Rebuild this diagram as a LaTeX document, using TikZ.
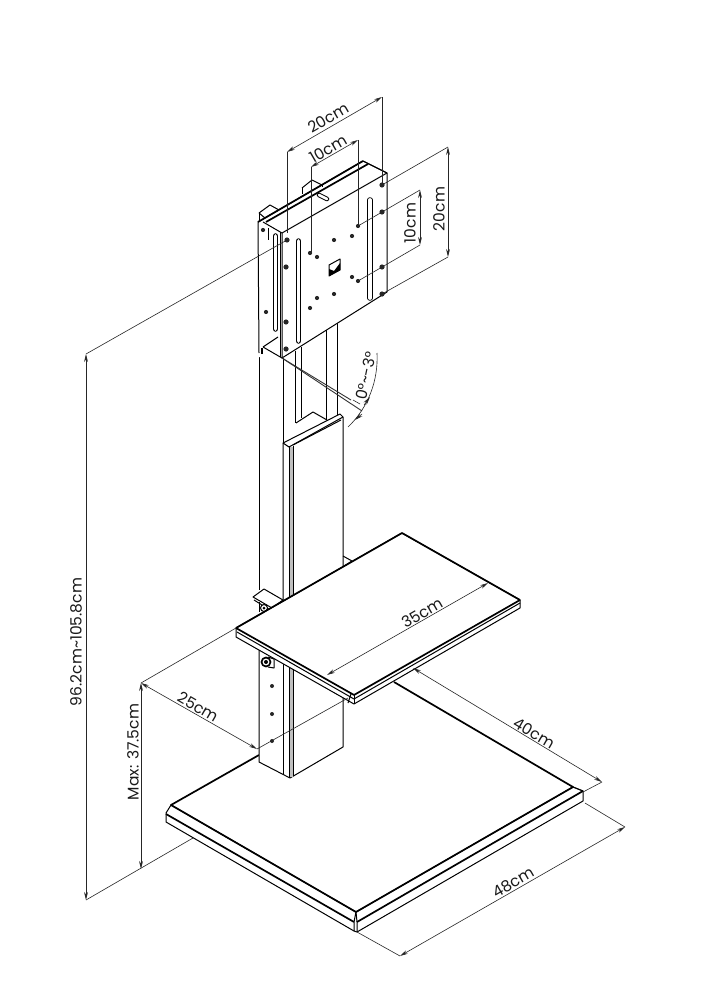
\documentclass[tikz,border=0pt]{standalone}
\usepackage{fontspec}
\setmainfont{Poppins}
\usetikzlibrary{arrows.meta}
\tikzset{
  part/.style={line width=1pt,black,line join=round},
  heavy/.style={line width=1.7pt,black,line join=round},
  extline/.style={line width=0.6pt,black!85},
  dimline/.style={line width=0.6pt,black!85,{Stealth[length=8pt,width=3.8pt]}-{Stealth[length=8pt,width=3.8pt]}},
  tip/.style={line width=0.6pt,black!85,-{Stealth[length=8pt,width=3.8pt]}},
  dimtext/.style={text=black!90,font=\fontsize{15.5}{18}\selectfont,inner sep=0pt},
  hole/.style={fill=black!85,draw=none}
}
\begin{document}
\begin{tikzpicture}[x=1pt,y=-1pt]
\useasboundingbox (0,0) rectangle (706,1000);
\fill[white] (0,0) rectangle (706,1000);

% base
\filldraw[part,fill=white] (171,805) -- (166,813) -- (166,822) -- (354,931) -- (357,932) -- (583,801) -- (583,791) -- (573,787) -- (356,912) -- cycle;
\draw[heavy] (259,755) -- (171,805) -- (356,912) -- (573,787) -- (394,682);
\draw[heavy] (166,814) -- (354,922);
\draw[heavy] (357,922) -- (583,791);
\draw[part] (573,787) -- (583,791);
\draw[part] (356,912) -- (354,922) -- (354,931);
\draw[part] (356,912) -- (357,922) -- (357,932);

% columns
\foreach \x/\a/\b in {259/357/590,283/358/443,295/351/423,301/347/418,326/322/420,337/316/415} {\draw[part] (\x,\a) -- (\x,\b);}

% lower post
\filldraw[part,fill=white] (259,645) -- (259,762) -- (290,778) -- (343,747) -- (343,690) -- cycle;
\fill[black!25] (289,660) rectangle (293,777);
\foreach \x/\a/\b in {283/660/775,289/665/778,293/662/776} {\draw[part] (\x,\a) -- (\x,\b);}
\foreach \y in {686,714,741} {\fill[hole] (272,\y) circle (2);}
\draw[part,fill=white] (268,657) -- (274,659) -- (274,668) -- (268,667);
\filldraw[heavy,fill=white] (266,662) circle (4.5);
\fill[black] (266,662) circle (2);

% collar
\filldraw[part,fill=white] (283,443) -- (340,414) -- (343,417) -- (343,567) -- (293,596) -- (283,602) -- cycle;
\draw[part] (283,443) -- (289,447) -- (343,417);
\fill[black!25] (289,447) rectangle (293,596);
\foreach \x/\a in {289/598,293/595} {\draw[part] (\x,446) -- (\x,\a);}
\draw[part] (293,445) -- (341,420);
\draw[part] (296,423) -- (313,412) -- (327,420);
\draw[part] (343,556) -- (352,561);
\draw[part] (343,567) -- (352,561);

% small bracket
\filldraw[part,fill=white] (253,597) -- (264,589) -- (283,600) -- (272,608) -- cycle;
\draw[part] (254,600) -- (270,610);
\draw[part] (259,602) -- (259,612);
\filldraw[part,fill=white] (264,608) circle (3.5);
\fill[black] (264,608) circle (1.5);

% shelf
\filldraw[part,fill=white] (236,628) -- (402,533) -- (520,600) -- (520,608) -- (354,704) -- (236,637) -- cycle;
\draw[heavy] (236,628) -- (402,533) -- (520,600);
\draw[heavy] (236,628) -- (354,695) -- (520,600);
\draw[part] (237,632) -- (354,699) -- (520,603);
\draw[part] (354,695) -- (354,704);
\draw[part] (351,694) -- (348,703);

% side panel and plate
\fill[white] (258,222) -- (363,161) -- (387,173) -- (387,292) -- (282,358) -- (259,357) -- cycle;
\draw[part] (259,353) -- (258,222) -- (363,161) -- (387,173) -- (387,292);
\draw[heavy] (258,222) -- (363,161);
\draw[heavy] (266,222) -- (368,164);
\draw[part] (263,222) -- (282,233) -- (387,173);
\draw[part] (363,161) -- (387,173);
\draw[part] (282,233) -- (282,358) -- (387,292);
\draw[part] (280,232) -- (280,357);
\draw[heavy] (262,348) -- (262,354);
\draw[part] (263,347) -- (282,358);
\draw[part] (263,347) -- (278,337);
\draw[part] (268,228) -- (268,240);
\draw[part] (259,213) -- (270,205) -- (279,210);
\draw[part] (259,213) -- (265,218);
\draw[part] (259,213) -- (259,222);
\draw[part] (302,188) -- (312,180) -- (322,185);
\draw[part] (302,188) -- (302,194);
\draw[part] (322,185) -- (322,187);

% slots
\foreach \x/\a/\b in {275.5/236/329,298.5/241/341,370/200/298} {
  \draw[line width=5.5pt,line cap=round,black] (\x,\a) -- (\x,\b);
  \draw[line width=3.8pt,line cap=round,white] (\x,\a) -- (\x,\b);
}
\draw[line width=4.5pt,line cap=round,black] (319,195) -- (327,199);
\draw[line width=2.5pt,line cap=round,white] (319,195) -- (327,199);

\foreach \x/\y in {358/226,358/281,310/253,310/308,317/257,317/298,334/240,334/294,352/236,352/277,266/312,263/230} {\fill[hole] (\x,\y) circle (2.1);}
\foreach \x/\y in {287/240,286/267,286/322,286/349,382/185,382/212,382/267,382/294} {\fill[hole] (\x,\y) circle (2.6);}
\filldraw[part,fill=white] (329,265) -- (340,259) -- (340,270) -- (329,276) -- cycle;
\fill[black] (329,276) -- (329,269) -- (334,271) -- (340,263) -- (340,270) -- cycle;

% measures
\coordinate (topa) at (287,152);
\coordinate (topb) at (382,97);
\coordinate (midb) at (358,140);
\coordinate (mida) at (311,167);
\coordinate (rta) at (448,147);
\coordinate (rtb) at (448,257);
\coordinate (rma) at (420,190);
\coordinate (rmb) at (420,245);
\coordinate (tallt) at (86,354);
\coordinate (tallb) at (86,900);
\coordinate (maxt) at (141,683);
\coordinate (maxb) at (141,869);
\coordinate (deptha) at (257,749);
\coordinate (shelfa) at (327,675);
\coordinate (shelfb) at (488,583);
\coordinate (longa) at (413,668);
\coordinate (longb) at (602,782);
\coordinate (basea) at (400,956);
\coordinate (baseb) at (625,827);
\coordinate (pivot) at (282,358);

\draw[extline] (topa) -- (287,233);
\draw[extline] (topb) -- (382,185);
\draw[extline] (mida) -- (311,253);
\draw[extline] (midb) -- (358,226);
\draw[extline] (rta) -- (382,185);
\draw[extline] (rtb) -- (382,294);
\draw[extline] (rma) -- (358,226);
\draw[extline] (rmb) -- (358,281);
\draw[extline] (tallt) -- (287,240);
\draw[extline] (tallb) -- (193,838);
\draw[extline] (maxt) -- (236,628);
\draw[extline] (deptha) -- (348,698);
\draw[extline] (longb) -- (583,792);
\draw[extline] (basea) -- (357,932);
\draw[extline] (baseb) -- (585,803);
\draw[line width=0.9pt,black!80] (pivot) -- (351,400);
\draw[line width=0.9pt,black!80] (pivot) -- (362,411);
\draw[extline] (353,400) -- (360,404);
\draw[extline] (348,427) .. controls (368.1,407.8) and (378.4,380.8) .. (377,353);

\draw[dimline] (topa) -- (topb);
\draw[dimline] (mida) -- (midb);
\draw[dimline] (rta) -- (rtb);
\draw[dimline] (rma) -- (rmb);
\draw[dimline] (tallt) -- (tallb);
\draw[dimline] (maxt) -- (maxb);
\draw[dimline] (maxt) -- (deptha);
\draw[dimline] (shelfa) -- (shelfb);
\draw[dimline] (longa) -- (longb);
\draw[dimline] (basea) -- (baseb);
\draw[tip] (362,414) -- (355,420);
\draw[tip] (364,405) -- (370,397);

\node[dimtext,rotate=30] (lbltop) at (328,118) {20cm};
\node[dimtext,rotate=30] (lblmid) at (328,149) {10cm};
\node[dimtext,rotate=90] (lblrt) at (439,209) {20cm};
\node[dimtext,rotate=90] (lblrm) at (410,223) {10cm};
\node[dimtext,rotate=78] (lblang) at (366,376) {0°\textasciitilde-3°};
\node[dimtext,rotate=30] (lblshelf) at (422,613) {35cm};
\node[dimtext,rotate=-30] (lbldepth) at (198,707) {25cm};
\node[dimtext,rotate=-30] (lbllong) at (534,733) {40cm};
\node[dimtext,rotate=30] (lblbase) at (513,882) {48cm};
\node[dimtext,rotate=90] (lblmax) at (133,752) {Max: 37.5cm};
\node[dimtext,rotate=90] (lbltall) at (76,642) {96.2cm\textasciitilde105.8cm};
\end{tikzpicture}
\end{document}
